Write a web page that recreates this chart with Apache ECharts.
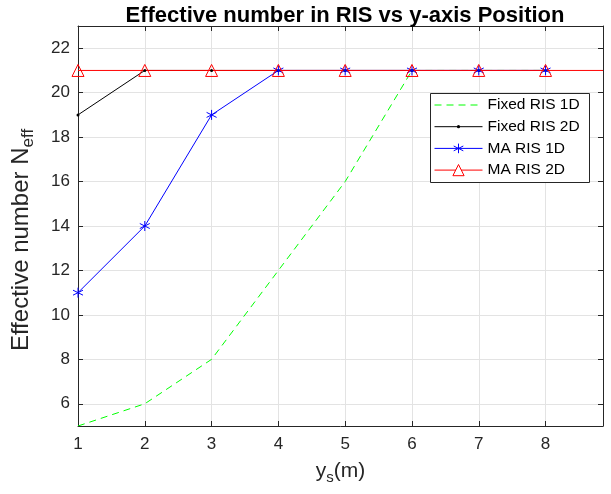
<!DOCTYPE html>
<html><head><meta charset="utf-8">
<script src="https://cdn.jsdelivr.net/npm/echarts@6/dist/echarts.min.js"></script>
<style>html,body{margin:0;padding:0;background:#fff}#c{width:611px;height:494px}</style>
</head><body><div id="c"></div>
<script>
const xs = [1, 2, 3, 4, 5, 6, 7, 8];
const fixed1D = [5, 6, 8, 12, 16, 21, 21, 21];
const fixed2D = [19, 21, 21, 21, 21, 21, 21, 21];
const ma1D = [11, 14, 19, 21, 21, 21, 21, 21];
const ma2D = [21, 21, 21, 21, 21, 21, 21, 21];
const yTicks = [6, 8, 10, 12, 14, 16, 18, 20, 22];
const xMax = 8.86;
const names = ['Fixed RIS 1D', 'Fixed RIS 2D', 'MA RIS 1D', 'MA RIS 2D'];

const pair = (arr) => xs.map((x, i) => [x, arr[i]]);
const star = 'path://M0,-10L0,10M-8.66,-5L8.66,5M-8.66,5L8.66,-5';
const font = 'Liberation Sans, Arial, sans-serif';
const axisCol = '#262626';

const chart = echarts.init(document.getElementById('c'), null, {renderer: 'canvas'});
const ma2DData = pair(ma2D).map(p => ({value: p}));
ma2DData.push({value: [xMax, ma2D[ma2D.length - 1]], symbol: 'none'});

const legTop = 97, legGap = 21.7;
const legendItemStyles = [
  {itemHeight: 12, itemStyle: {opacity: 0}, lineStyle: {width: 1, color: '#00ff00', type: [7, 5]}},
  {itemHeight: 4, itemStyle: {color: '#000'}, lineStyle: {width: 1, color: '#000'}},
  {itemHeight: 12, itemStyle: {color: '#0000ff', borderColor: '#0000ff', borderWidth: 1}, lineStyle: {width: 1, color: '#0000ff'}},
  {itemHeight: 14, itemStyle: {color: '#fff', borderColor: '#ff0000', borderWidth: 1}, lineStyle: {width: 1, color: '#ff0000'}}
];
const legends = names.map((n, i) => ({
  z: 6, orient: 'vertical', left: 434, top: legTop + i * legGap,
  padding: 0, itemWidth: 48, itemHeight: legendItemStyles[i].itemHeight, itemGap: 0,
  textStyle: {fontFamily: font, fontSize: 15.5, color: '#000', lineHeight: 14},
  data: [{name: n, itemStyle: legendItemStyles[i].itemStyle, lineStyle: legendItemStyles[i].lineStyle}], selectedMode: false
}));

chart.setOption({
  animation: false,
  title: {
    text: 'Effective number in RIS vs y-axis Position',
    left: 340, top: 0, textAlign: 'center',
    textStyle: {fontFamily: font, fontWeight: 'bold', fontSize: 22, color: '#000'}
  },
  graphic: [{
    type: 'rect', left: 430, top: 93, z: 4,
    shape: {width: 159, height: 89},
    style: {fill: '#fff', stroke: axisCol, lineWidth: 1}
  }],
  grid: {left: 78, right: 8, top: 26, bottom: 68},
  legend: legends,
  xAxis: [{
    type: 'value', min: 1, max: xMax, interval: 1,
    name: '{a|y}{s|s}{a|(m)}', nameLocation: 'middle', nameGap: 32,
    nameTextStyle: {rich: {a: {fontFamily: font, fontSize: 21, color: axisCol}, s: {fontFamily: font, fontSize: 15, color: axisCol, verticalAlign: 'bottom', padding: [12, 0, 0, 0]}}},
    axisLine: {show: true, lineStyle: {color: axisCol}},
    axisTick: {inside: true, length: 5, lineStyle: {color: axisCol}},
    axisLabel: {fontFamily: font, fontSize: 17, color: axisCol, margin: 10, showMaxLabel: false,
      formatter: v => Number.isInteger(v) ? String(v) : ''},
    splitLine: {show: true, lineStyle: {color: '#e3e3e3'}}
  }, {
    type: 'value', position: 'top', min: 1, max: xMax, interval: 1,
    axisLine: {show: true, lineStyle: {color: axisCol}},
    axisTick: {inside: true, length: 5, lineStyle: {color: axisCol}},
    axisLabel: {show: false}, splitLine: {show: false}
  }],
  yAxis: [{
    type: 'value', min: 5, max: 23,
    name: '{a|Effective number N}{s|eff}', nameLocation: 'middle', nameGap: 41, nameRotate: 90,
    nameTextStyle: {padding: [0, 28, 0, 0], rich: {a: {fontFamily: font, fontSize: 24, color: axisCol}, s: {fontFamily: font, fontSize: 17, color: axisCol, verticalAlign: 'bottom', padding: [14, 0, 0, 0]}}},
    axisLine: {show: true, lineStyle: {color: axisCol}},
    axisTick: {inside: true, length: 5, lineStyle: {color: axisCol}, customValues: yTicks},
    axisLabel: {fontFamily: font, fontSize: 17, color: axisCol, margin: 8, customValues: yTicks},
    splitLine: {show: true, lineStyle: {color: '#e3e3e3'}}
  }, {
    type: 'value', position: 'right', min: 5, max: 23,
    axisLine: {show: true, lineStyle: {color: axisCol}},
    axisTick: {inside: true, length: 5, lineStyle: {color: axisCol}, customValues: yTicks},
    axisLabel: {show: false}, splitLine: {show: false}
  }],
  series: [
    {name: names[0], type: 'line', data: pair(fixed1D), symbol: 'none',
      lineStyle: {color: '#00ff00', width: 1, type: [7, 5]}, itemStyle: {color: '#00ff00'}},
    {name: names[1], type: 'line', data: pair(fixed2D), symbol: 'circle', symbolSize: 3,
      lineStyle: {color: '#000', width: 1}, itemStyle: {color: '#000'}},
    {name: names[2], type: 'line', data: pair(ma1D), symbol: star, symbolSize: 10,
      lineStyle: {color: '#0000ff', width: 1}, itemStyle: {color: '#0000ff', borderColor: '#0000ff', borderWidth: 1}},
    {name: names[3], type: 'line', data: ma2DData, symbol: 'triangle', symbolSize: 12,
      lineStyle: {color: '#ff0000', width: 1}, itemStyle: {color: 'rgba(255,255,255,0)', borderColor: '#ff0000', borderWidth: 1}}
  ]
});
</script></body></html>
